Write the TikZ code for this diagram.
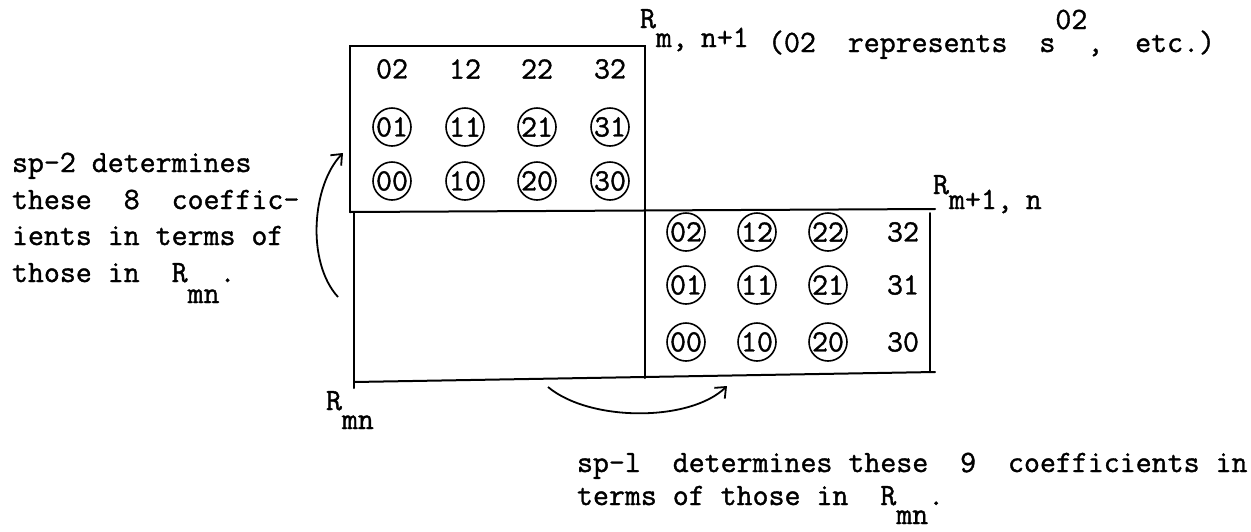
\documentclass[tikz,border=0pt]{standalone}
\usepackage{fontspec}
\newfontfamily\twfont{Latin Modern Mono}[FakeBold=1.2]
\usetikzlibrary{arrows.meta}
\newcommand{\tw}{\fontsize{31}{37}\selectfont\twfont}
\tikzset{
 lbl/.style={inner sep=0pt, outer sep=0pt, font=\tw},
 cnum/.style={circle, draw, line width=1.6pt, minimum size=38pt, inner sep=0pt, font=\tw},
 pnum/.style={inner sep=0pt, font=\tw},
 frame/.style={line width=2pt, line cap=round},
 arr/.style={line width=1.8pt, -{Straight Barb[length=9pt,width=15pt]}}
}
\begin{document}
\begin{tikzpicture}[x=1pt,y=-1pt]
\useasboundingbox (0,0) rectangle (1251,531);
% frame corners
\coordinate (A) at (350,46);
\coordinate (B) at (645,46);
\coordinate (D) at (350,212);
\coordinate (E) at (935,209);
\coordinate (F) at (354,212);
\coordinate (G) at (354,388);
\coordinate (H) at (645,378);
\coordinate (J) at (930,213);
\coordinate (K) at (930,372);
\coordinate (L) at (354,382);
\coordinate (M) at (935,372);
\draw[frame] (D) -- (A) -- (B) -- (H);
\draw[frame] (D) -- (E);
\draw[frame] (F) -- (G);
\draw[frame] (J) -- (K);
\draw[frame] (L) -- (M);
% top box numbers
\node[pnum] (t02) at (392,69) {02};
\node[pnum] (t12) at (465,69) {12};
\node[pnum] (t22) at (537,69) {22};
\node[pnum] (t32) at (610,69) {32};
\node[cnum] (t01) at (392,127) {01};
\node[cnum] (t11) at (465,127) {11};
\node[cnum] (t21) at (537,127) {21};
\node[cnum] (t31) at (610,127) {31};
\node[cnum] (t00) at (392,181) {00};
\node[cnum] (t10) at (465,181) {10};
\node[cnum] (t20) at (537,181) {20};
\node[cnum] (t30) at (610,181) {30};
% lower right box numbers
\node[cnum] (b02) at (686,232) {02};
\node[cnum] (b12) at (757,232) {12};
\node[cnum] (b22) at (828,232) {22};
\node[pnum] (b32) at (903,232) {32};
\node[cnum] (b01) at (686,285) {01};
\node[cnum] (b11) at (757,285) {11};
\node[cnum] (b21) at (828,285) {21};
\node[pnum] (b31) at (903,285) {31};
\node[cnum] (b00) at (686,342) {00};
\node[cnum] (b10) at (757,342) {10};
\node[cnum] (b20) at (828,342) {20};
\node[pnum] (b30) at (903,342) {30};
% region labels
\node[lbl, anchor=base west] (Rtop) at (640,28) {R\raisebox{-19pt}{m,\kern-3pt\ n+1}};
\node[lbl, anchor=base west] (Rright) at (933,194) {R\raisebox{-15pt}{m+1,\kern-3pt\ n}};
\node[lbl, anchor=base west] (Rmn) at (326,410) {R\raisebox{-19pt}{mn}};
% note
\node[lbl, anchor=base west] (note) at (768,52) {(02\ \ represents\ \ s\raisebox{23pt}{02},\ \ etc.)};
% left text
\node[lbl, anchor=base west] (l1) at (12,172) {sp-2 determines};
\node[lbl, anchor=base west] (l2) at (12,209) {these\ \ 8\ \ coeffic-};
\node[lbl, anchor=base west] (l3) at (12,245) {ients in terms of};
\node[lbl, anchor=base west] (l4) at (12,282) {those in\ \ R\raisebox{-21pt}{mn}.};
% bottom text
\node[lbl, anchor=base west] (m1) at (577,472) {sp-l\ \ determines these\ \ 9\ \ coefficients in};
\node[lbl, anchor=base west] (m2) at (577,505) {terms of those in\ \ R\raisebox{-19pt}{mn}.};
% arrows
\coordinate (la1) at (338,297);
\coordinate (la2) at (343,153);
\draw[arr] (la1) .. controls (306,262) and (312,185) .. (la2);
\coordinate (ba1) at (548,387);
\coordinate (ba2) at (727,386);
\draw[arr] (ba1) .. controls (590,422) and (690,422) .. (ba2);
\end{tikzpicture}
\end{document}
